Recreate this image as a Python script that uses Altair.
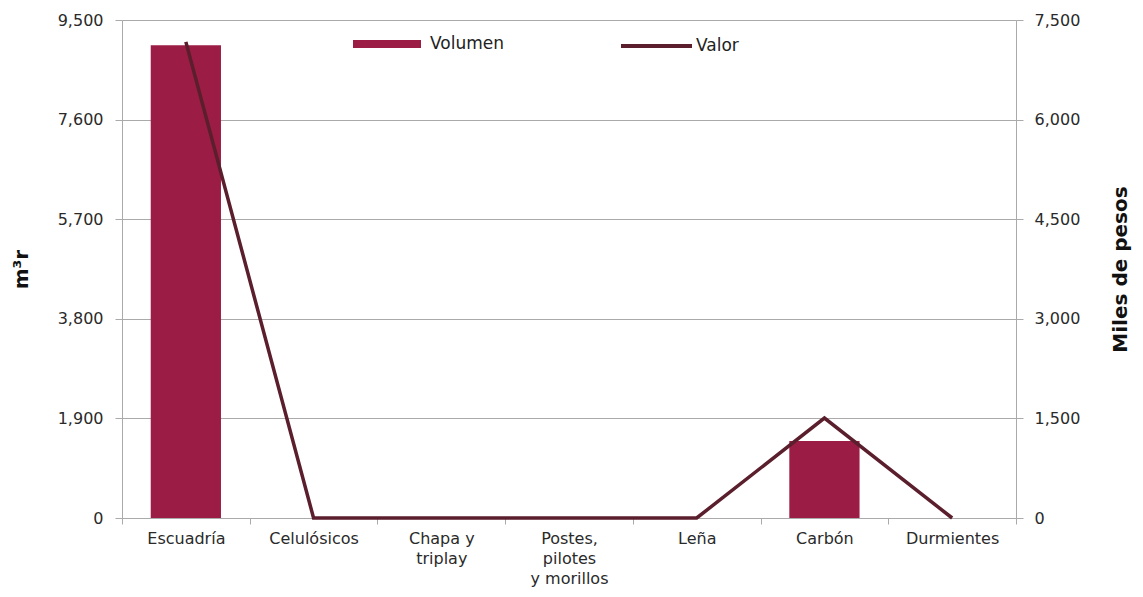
import altair as alt
import pandas as pd

categories = ["Escuadría", "Celulósicos", "Chapa y\ntriplay", "Postes,\npilotes\ny morillos", "Leña", "Carbón", "Durmientes"]
volumen = [9020, 0, 0, 0, 0, 1470, 0]
valor = [7170, 0, 0, 0, 0, 1505, 0]
left_ticks = [0, 1900, 3800, 5700, 7600, 9500]
right_ticks = [0, 1500, 3000, 4500, 6000, 7500]

df = pd.DataFrame({"cat": categories, "Volumen": volumen, "Valor": valor,
                   "s1": "Volumen", "s2": "Valor"})

FONT = "DejaVu Sans"
BAR = "#9B1D45"
LINE = "#5A1E2C"
GRID = "#AAAAAA"
TXT = "#2A2A2A"

x = alt.X("cat:N", sort=categories, title=None,
          scale=alt.Scale(paddingInner=0, paddingOuter=0),
          axis=alt.Axis(labelAngle=0, labelExpr="split(datum.label, '\\n')",
                        tickBand="extent", labelFontSize=16, labelColor=TXT,
                        labelFont=FONT, labelPadding=6, tickSize=6, tickColor=GRID,
                        domainColor=GRID, labelLineHeight=20))

bars = alt.Chart(df).mark_bar(width=alt.RelativeBandSize(0.55)).encode(
    x=x,
    y=alt.Y("Volumen:Q", title="m³r",
            scale=alt.Scale(domain=[0, 9500], nice=False),
            axis=alt.Axis(values=left_ticks, format=",.0f", grid=True, gridColor=GRID,
                          labelFontSize=16, labelColor=TXT, labelFont=FONT,
                          labelPadding=12, tickSize=7, tickColor=GRID, domainColor=GRID,
                          titleFont=FONT, titleFontSize=20, titleFontWeight="bold",
                          titleColor="#111111", titlePadding=26)),
    fill=alt.Fill("s1:N", scale=alt.Scale(domain=["Volumen"], range=[BAR]),
                  legend=alt.Legend(title=None, orient="none", legendX=231, legendY=-10,
                                    symbolType="M-1,-0.12L1,-0.12L1,0.12L-1,0.12Z",
                                    symbolSize=4624, labelFontSize=17, labelFont=FONT,
                                    labelColor="#222222", labelOffset=9, padding=0,
                                    symbolStrokeWidth=0)),
)

line = alt.Chart(df).mark_line(strokeWidth=3.5).encode(
    x=x,
    y=alt.Y("Valor:Q", title="Miles de pesos",
            scale=alt.Scale(domain=[0, 7500], nice=False),
            axis=alt.Axis(orient="right", values=right_ticks, format=",.0f", grid=False,
                          labelFontSize=16, labelColor=TXT, labelFont=FONT,
                          labelPadding=11, tickSize=7, tickColor=GRID, domainColor=GRID,
                          titleFont=FONT, titleFontSize=20, titleFontWeight="bold",
                          titleColor="#111111", titleAngle=270, titlePadding=51)),
    stroke=alt.Stroke("s2:N", scale=alt.Scale(domain=["Valor"], range=[LINE]),
                      legend=alt.Legend(title=None, orient="none", legendX=497, legendY=-11.5,
                                        symbolType="stroke", symbolSize=5041,
                                        symbolStrokeWidth=4, labelFontSize=17,
                                        labelFont=FONT, labelColor="#222222",
                                        labelOffset=2, padding=0)),
)

chart = alt.layer(bars, line).resolve_scale(y="independent", fill="independent",
                                            stroke="independent").properties(
    width=894, height=498,
    autosize=alt.AutoSizeParams(type="none"),
    padding={"left": 114, "top": 12, "right": 119, "bottom": 71},
).configure_view(stroke=None).configure(background="white")

chart.save("out.html", embed_options={"renderer": "svg", "actions": False})
